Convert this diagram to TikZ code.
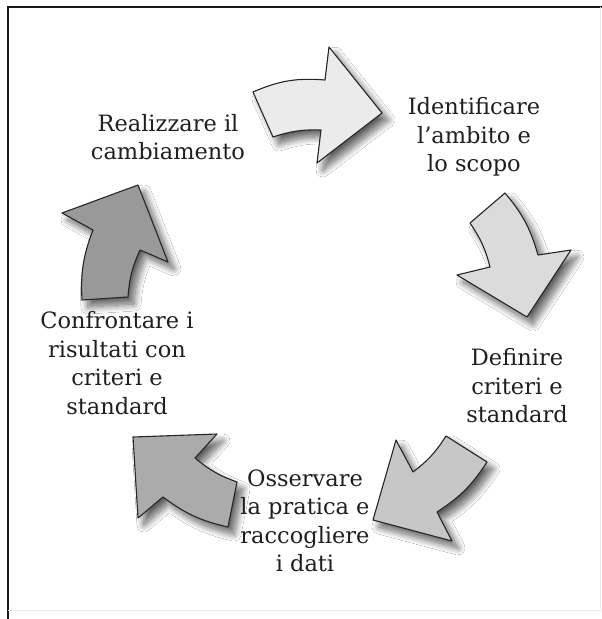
\documentclass[tikz,border=0pt]{standalone}
\usepackage{fontspec}
\setmainfont{DejaVu Serif}
\usetikzlibrary{shadows.blur}
\begin{document}
\begin{tikzpicture}[x=1pt,y=-1pt,
  cyclearrow/.style={draw=black!85, line width=1.1pt, line join=round,
    blur shadow={shadow xshift=6pt, shadow yshift=-7pt, shadow opacity=62,
      shadow blur radius=7pt, shadow blur steps=14}},
  steplabel/.style={align=center, inner sep=0pt, text=black!88,
    font=\fontsize{22.5}{28.5}\selectfont}]
\useasboundingbox (0,0) rectangle (602,619);
\fill[white] (0,0) rectangle (602,619);
% frame on the left and top
\draw[line width=2pt, black!90] (7.5,619) -- (7.5,6.5) -- (602,6.5);
% faint frame on the right and bottom
\draw[line width=0.8pt, black!8] (8,610) -- (600,610) -- (600,7);

% the five arrows of the cycle
\path[cyclearrow, fill=black!8] (253,92) to[bend left=14] (325,80) -- (329,47)
  -- (382,113) -- (317,163) -- (321,130) to[bend right=10] (273,137) -- cycle;
\path[cyclearrow, fill=black!14] (505,193) to[bend left=12] (538,255) -- (571,250)
  -- (527,317) -- (457,275) -- (490,267) to[bend right=10] (470,223) -- cycle;
\path[cyclearrow, fill=black!22] (487,462) to[bend left=12] (437,512) -- (452,541)
  -- (373,520) -- (396,440) -- (413,472) to[bend right=10] (446,436) -- cycle;
\path[cyclearrow, fill=black!33] (228,527) to[bend left=12] (163,497) -- (138,518)
  -- (133,437) -- (217,434) -- (195,458) to[bend right=10] (237,482) -- cycle;
\path[cyclearrow, fill=black!40] (82,300) to[bend left=12] (93,230) -- (62,213)
  -- (138,185) -- (168,262) -- (140,250) to[bend right=10] (128,297) -- cycle;

% step labels
\node[steplabel] (realize) at (168,137) {Realizzare il\\cambiamento};
\node[steplabel] (scope) at (474,137) {Identificare\\l’ambito e\\lo scopo};
\node[steplabel] (criteria) at (517,386) {Definire\\criteri e\\standard};
\node[steplabel] (observe) at (305,521) {Osservare\\la pratica e\\raccogliere\\i dati};
\node[steplabel] (compare) at (117,363) {Confrontare i\\risultati con\\criteri e\\standard};
\end{tikzpicture}
\end{document}
